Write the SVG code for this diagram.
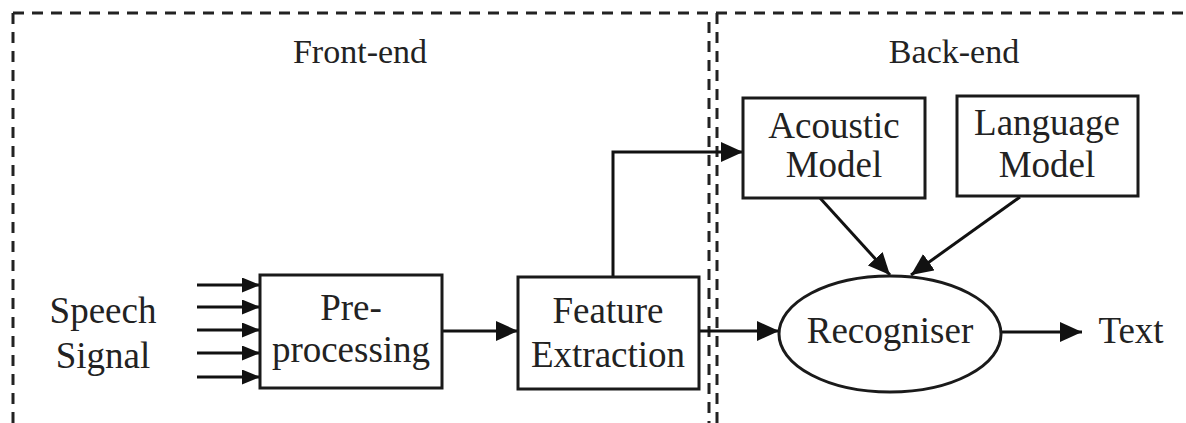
<svg xmlns="http://www.w3.org/2000/svg" width="1186" height="423" viewBox="0 0 1186 423">
  <style>
    .box { fill: #ffffff; stroke: #1a1a1a; stroke-width: 3; }
    .frame { fill: none; stroke: #222222; stroke-width: 3; stroke-dasharray: 11 8; }
    .wire { fill: none; stroke: #111111; stroke-width: 3; }
    .label { font-family: "Liberation Serif", "Times New Roman", serif; font-size: 37px; fill: #222222; text-anchor: middle; }
    .title { font-family: "Liberation Serif", "Times New Roman", serif; font-size: 34px; fill: #222222; text-anchor: middle; }
  </style>
  <defs>
    <marker id="arrow" markerUnits="userSpaceOnUse" markerWidth="24" markerHeight="20" refX="22" refY="10" orient="auto">
      <path d="M0,0 L22,10 L0,20 Z" fill="#111111"/>
    </marker>
    <marker id="arrow-small" markerUnits="userSpaceOnUse" markerWidth="20" markerHeight="15" refX="18" refY="7.5" orient="auto">
      <path d="M0,0 L18,7.5 L0,15 Z" fill="#111111"/>
    </marker>
  </defs>

  <rect width="1186" height="423" fill="#ffffff"/>

  <!-- dashed section frames -->
  <g id="frames">
    <line class="frame" x1="13" y1="13" x2="1186" y2="13"/>
    <line class="frame" x1="13" y1="13" x2="13" y2="423"/>
    <line class="frame" x1="709" y1="22" x2="709" y2="423"/>
    <line class="frame" x1="717" y1="13" x2="717" y2="423"/>
    <text class="title" x="360" y="63">Front-end</text>
    <text class="title" x="954" y="63">Back-end</text>
  </g>

  <!-- connectors -->
  <g id="connectors">
    <line class="wire" x1="197" y1="285" x2="260" y2="285" marker-end="url(#arrow-small)"/>
    <line class="wire" x1="197" y1="307" x2="260" y2="307" marker-end="url(#arrow-small)"/>
    <line class="wire" x1="197" y1="330" x2="260" y2="330" marker-end="url(#arrow-small)"/>
    <line class="wire" x1="197" y1="353" x2="260" y2="353" marker-end="url(#arrow-small)"/>
    <line class="wire" x1="197" y1="377" x2="260" y2="377" marker-end="url(#arrow-small)"/>
    <line class="wire" x1="442" y1="331" x2="518" y2="331" marker-end="url(#arrow)"/>
    <polyline class="wire" points="613,277 613,152 743,152" marker-end="url(#arrow)"/>
    <line class="wire" x1="699" y1="331" x2="779" y2="331" marker-end="url(#arrow)"/>
    <line class="wire" x1="820" y1="198" x2="890" y2="275" marker-end="url(#arrow)"/>
    <line class="wire" x1="1020" y1="197" x2="911" y2="275" marker-end="url(#arrow)"/>
    <line class="wire" x1="1002" y1="332" x2="1082" y2="332" marker-end="url(#arrow)"/>
  </g>

  <g id="speech-signal">
    <text class="label" x="103" y="323">Speech</text>
    <text class="label" x="103" y="368">Signal</text>
  </g>

  <g id="pre-processing">
    <rect class="box" x="260" y="275" width="182" height="113"/>
    <text class="label" x="351" y="320">Pre-</text>
    <text class="label" x="351" y="362">processing</text>
  </g>

  <g id="feature-extraction">
    <rect class="box" x="518" y="277" width="181" height="112"/>
    <text class="label" x="608" y="323">Feature</text>
    <text class="label" x="608" y="367">Extraction</text>
  </g>

  <g id="acoustic-model">
    <rect class="box" x="743" y="98" width="182" height="100"/>
    <text class="label" x="834" y="138">Acoustic</text>
    <text class="label" x="834" y="177">Model</text>
  </g>

  <g id="language-model">
    <rect class="box" x="957" y="96" width="181" height="100"/>
    <text class="label" x="1047" y="135">Language</text>
    <text class="label" x="1047" y="177">Model</text>
  </g>

  <g id="recogniser">
    <ellipse class="box" cx="890" cy="334" rx="111" ry="58"/>
    <text class="label" x="890" y="343">Recogniser</text>
  </g>

  <g id="text-output">
    <text class="label" x="1131" y="343">Text</text>
  </g>
</svg>
